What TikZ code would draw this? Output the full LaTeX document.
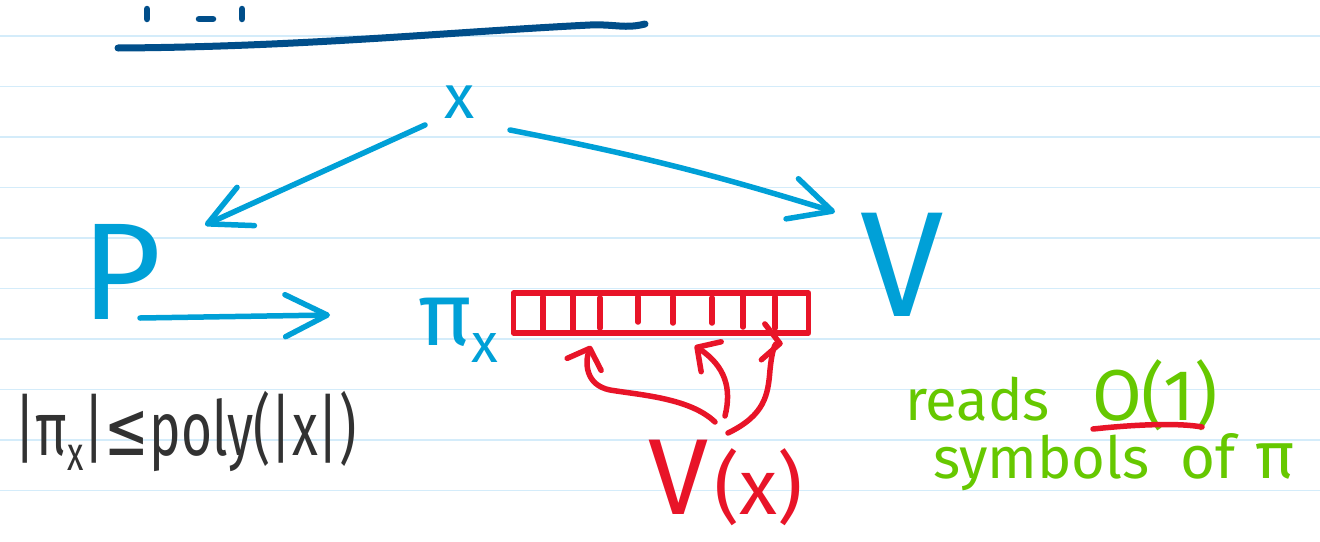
\documentclass[tikz,border=0pt]{standalone}
\usepackage{fontspec}
\setmainfont{Fira Sans}
\newfontfamily\dvs{DejaVu Sans}
\usetikzlibrary{arrows.meta,calc}
\definecolor{inkblue}{RGB}{0,160,215}
\definecolor{inknavy}{RGB}{0,78,138}
\definecolor{inkred}{RGB}{232,20,40}
\definecolor{inkgreen}{RGB}{102,200,0}
\definecolor{inkblack}{RGB}{50,50,50}
\definecolor{rulecol}{RGB}{212,236,250}
\newcommand\inkfs[1]{\fontsize{#1}{#1}\selectfont}
\begin{document}
\begin{tikzpicture}[x=1pt,y=-1pt,
  pen/.style={line width=5.5pt,line cap=round,line join=round},
  bluepen/.style={pen,draw=inkblue},
  redpen/.style={pen,draw=inkred},
  bigbarb/.style={-{Straight Barb[length=42pt,width=42pt,round]}},
  smallbarb/.style={-{Straight Barb[length=17pt,width=36pt,round]}},
  ink/.style={inner sep=0pt,outer sep=0pt}]
\useasboundingbox (0,0) rectangle (1320,541);
\fill[white] (0,0) rectangle (1320,541);
% ruled paper
\foreach \k in {0,...,9}
  \draw[rulecol,line width=1.4pt] (0,36+50.5*\k) -- (1320,36+50.5*\k);
% fragments of a cut-off title and its underline
\draw[pen,draw=inknavy,line width=6.5pt] (147,9) -- (147,19);
\draw[pen,draw=inknavy,line width=6.5pt] (199,19) -- (213,19);
\draw[pen,draw=inknavy,line width=6.5pt] (242,9) -- (242,19);
\draw[pen,draw=inknavy,line width=7pt] (118,48) .. controls (300,47) and (450,32) .. (590,25) .. controls (615,24) and (625,29) .. (645,24);
% blue nodes
\node[ink,text=inkblue,font=\inkfs{62}] (x) at (460,102) {x};
\node[ink,text=inkblue,font=\inkfs{138}] (P) at (122,272) {P};
\node[ink,text=inkblue,font=\inkfs{150}] (V) at (902,265) {V};
\node[ink,text=inkblue,font=\inkfs{90},anchor=base west] (pix) at (418,345) {π\raisebox{-17pt}{\inkfs{55}x}};
% blue arrows
\draw[bluepen,bigbarb] ($(x)+(-35,23)$) -- ($(P)+(83,-47)$);
\draw[bluepen,bigbarb] ($(x)+(50,28)$) to[bend left=3] ($(V)+(-67,-53)$);
\draw[bluepen,bigbarb] ($(P)+(18,46)$) -- ($(pix.base west)+(-88,-30)$);
% red tape
\node[draw=inkred,pen,minimum width=295pt,minimum height=40pt,inner sep=0pt] (tape) at (661,313) {};
\foreach \cx/\ya/\yb in {543/297/332,573/296/332,600/298/328,638/297/322,673/297/323,712/298/323,743/295/327,775/297/328}
  \draw[redpen] (\cx,\ya) -- (\cx,\yb);
% V(x)
\node[ink,text=inkred,anchor=base west] (Vx) at (648,514) {{\inkfs{108}V}\hspace{6pt}{\inkfs{78}(x)}};
\coordinate (s1) at (715,422);
\coordinate (s2) at (725,416);
\coordinate (s3) at (728,433);
\draw[redpen,smallbarb] (s1) .. controls (690,398) and (640,395) .. (610,390) .. controls (585,385) and (585,362) .. ($(tape.south west)+(80,10)$);
\draw[redpen,smallbarb] (s2) .. controls (732,388) and (725,366) .. ($(tape.south west)+(184,10)$);
\draw[redpen,smallbarb] (s3) .. controls (765,415) and (768,395) .. (770,370) .. controls (772,350) and (775,343) .. ($(tape.south west)+(272,8)$);
% black bound
\node[ink,text=inkblack,anchor=base west,font=\inkfs{76}] (bound) at (14,455) {\scalebox{0.7}[1]{|π\raisebox{-15pt}{\inkfs{48}x}|{\dvs ≤}poly(|x|)}};
% green remark
\node[ink,text=inkgreen,anchor=base west,font=\inkfs{58}] (reads) at (905,420) {reads};
\node[ink,text=inkgreen,anchor=base west,font=\inkfs{72}] (O1) at (1092,420) {O(1)};
\draw[redpen] ($(O1.base west)+(1,9)$) .. controls (1140,424) and (1180,423) .. ($(O1.base west)+(110,7)$);
\node[ink,text=inkgreen,anchor=base west,font=\inkfs{58}] (symbols) at (933,478) {symbols};
\node[ink,text=inkgreen,anchor=base west,font=\inkfs{60}] (of) at (1180,478) {of};
\node[ink,text=inkgreen,anchor=base west,font=\inkfs{66}] (piG) at (1255,478) {π};
\end{tikzpicture}
\end{document}
